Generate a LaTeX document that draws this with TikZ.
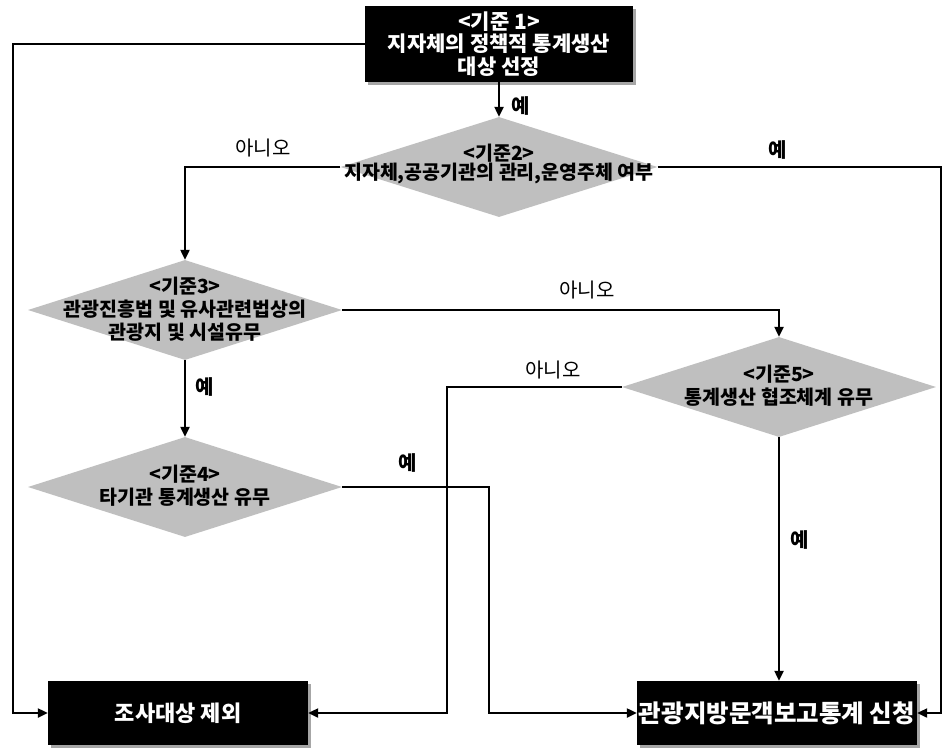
\documentclass[tikz,border=0pt]{standalone}
\usepackage{fontspec}
\newfontfamily\kr{Noto Sans CJK KR}
\usetikzlibrary{arrows.meta,shapes.geometric,shadows}
\begin{document}
\begin{tikzpicture}[x=1pt,y=-1pt,
  blackbox/.style={draw=none, fill=black, text=white, font=\kr\bfseries\fontsize{21}{22.5}\selectfont, align=center, inner sep=0pt, drop shadow={shadow xshift=3pt, shadow yshift=-3pt, fill=black!35, opacity=1}},
  dia/.style={shape=diamond, fill=black!25, draw=none, inner sep=0pt, minimum width=314pt, minimum height=100pt},
  dtext/.style={font=\kr\bfseries\fontsize{19.5}{23}\selectfont, align=center, text=black, inner sep=0pt},
  conn/.style={line width=2.2pt, draw=black},
  arr/.style={conn, -{Triangle[length=10pt,width=9pt]}},
  yeslab/.style={font=\kr\bfseries\fontsize{20}{22}\selectfont, inner sep=0pt},
  nolab/.style={font=\kr\fontsize{20}{22}\selectfont, inner sep=0pt},
]
\useasboundingbox (0,0) rectangle (944,749);
\fill[white] (0,0) rectangle (944,749);

% boxes
\node[blackbox, minimum width=268pt, minimum height=76pt] (top) at (499,44) {<기준 1>\\지자체의 정책적 통계생산\\대상 선정};
\node[blackbox, minimum width=260pt, minimum height=64pt, font=\kr\bfseries\fontsize{22}{24}\selectfont] (lb) at (178,713) {조사대상 제외};
\node[blackbox, minimum width=280pt, minimum height=64pt, font=\kr\bfseries\fontsize{24.5}{26}\selectfont] (rb) at (777,713) {관광지방문객보고통계 신청};

% diamonds
\node[dia, minimum width=317pt] (d2) at (499,167) {};
\node[dia] (d3) at (185,310) {};
\node[dia] (d4) at (185,487) {};
\node[dia] (d5) at (779,387) {};

\node[dtext, font=\kr\bfseries\fontsize{19.5}{18.5}\selectfont] (d2t) at (499,164) {<기준2>\\지자체,공공기관의 관리,운영주체 여부};
\node[dtext] (d3t) at (185,309) {<기준3>\\관광진흥법 및 유사관련법상의\\관광지 및 시설유무};
\node[dtext] (d4t) at (185,486) {<기준4>\\타기관 통계생산 유무};
\node[dtext] (d5t) at (779,386) {<기준5>\\통계생산 협조체계 유무};

% helper coordinates
\coordinate (cL) at (13,713);
\coordinate (cR) at (941,713);
\coordinate (c5) at (447,713);
\coordinate (c4) at (489,713);

% connectors
\draw[arr] (top.south) -- (d2.north);
\draw[arr] (d2.west) -| (d3.north);
\draw[arr] (d2.east) -| (cR) -- (rb.east);
\draw[arr] (top.west) -| (cL) -- (lb.west);
\draw[arr] (d3.east) -| (d5.north);
\draw[arr] (d3.south) -- (d4.north);
\draw[arr] (d5.west) -| (c5) -- (lb.east);
\draw[arr] (d4.east) -| (c4) -- (rb.west);
\draw[arr] (d5.south) -- (d5.south |- rb.north);

% labels
\node[yeslab] (l1) at (521,106) {예};
\node[nolab] (l2) at (263,148) {아니오};
\node[yeslab] (l3) at (778,150) {예};
\node[nolab] (l4) at (587,290) {아니오};
\node[nolab] (l5) at (553,370) {아니오};
\node[yeslab] (l6) at (205,387) {예};
\node[yeslab] (l7) at (408,463) {예};
\node[yeslab] (l8) at (800,540) {예};
\end{tikzpicture}
\end{document}
